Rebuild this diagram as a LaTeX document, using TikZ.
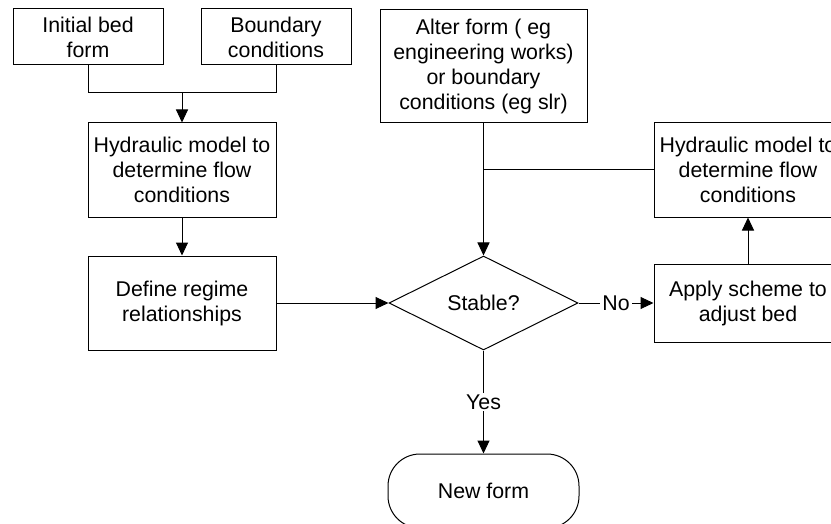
\documentclass[tikz,border=0pt]{standalone}
\usepackage{fontspec}
\setmainfont{Liberation Sans}
\usetikzlibrary{calc, positioning, shapes.geometric, arrows.meta}

\begin{document}
\begin{tikzpicture}[x=0.75pt, y=-0.75pt, node distance=28.5pt, font=\fontsize{16}{18.75}\selectfont]
		\tikzstyle{stage} = [draw, align=center, minimum width=141pt, minimum height=70.5pt, inner sep=0pt, line width=0.75pt]
		\tikzstyle{input} = [stage, minimum width=112.5pt, minimum height=42pt]
		\tikzstyle{test} = [draw, diamond, aspect=2, minimum width=141.75pt, minimum height=70.5pt, inner sep=0pt, line width=0.75pt]
		\tikzstyle{terminal} = [draw, rounded corners=24pt, minimum width=143.25pt, minimum height=55.5pt, line width=0.75pt]
		\tikzstyle{flow} = [line width=0.75pt, -{Triangle[length=9.75pt, width=9pt]}]
		\tikzstyle{link} = [line width=0.75pt]
		\tikzstyle{answer} = [fill=white, inner sep=1.5pt]

		\useasboundingbox (0,0) rectangle (831,524);

		\node[input] (bed) at (88,37) {Initial bed\\form};
		\node[input, right=27.75pt of bed] (bound) {Boundary\\conditions};
		\coordinate (join1) at ($(bed.south)!0.5!(bound.south)+(0,27)$);

		\node[stage, below=22.5pt of join1] (hydA) {Hydraulic model to\\determine flow\\conditions};
		\node[stage, below=of hydA] (regime) {Define regime\\relationships};

		\node[test, right=84pt of regime] (stable) {Stable?};
		\node[stage, minimum width=155.25pt, minimum height=84.75pt, above=99pt of stable] (alter) {Alter form ( eg\\engineering works)\\or boundary\\conditions (eg slr)};

		\node[stage, minimum height=58.5pt, right=56.25pt of stable] (apply) {Apply scheme to\\adjust bed};
		\node[stage, above=34.5pt of apply] (hydB) {Hydraulic model to\\determine flow\\conditions};
		\coordinate (join2) at (alter.south |- hydB.west);

		\node[terminal, below=77.25pt of stable] (newform) {New form};

		\draw[link] (bed.south) |- (join1) -| (bound.south);
		\draw[flow] (join1) -- (hydA);
		\draw[flow] (hydA) -- (regime);
		\draw[flow] (regime) -- (stable);
		\draw[flow] (alter) -- (stable);
		\draw[link] (hydB) -- (join2);
		\draw[flow] (stable) -- node[answer] {No} (apply);
		\draw[flow] (apply) -- (hydB);
		\draw[flow] (stable) -- node[answer] {Yes} (newform);
	\end{tikzpicture}
\end{document}
